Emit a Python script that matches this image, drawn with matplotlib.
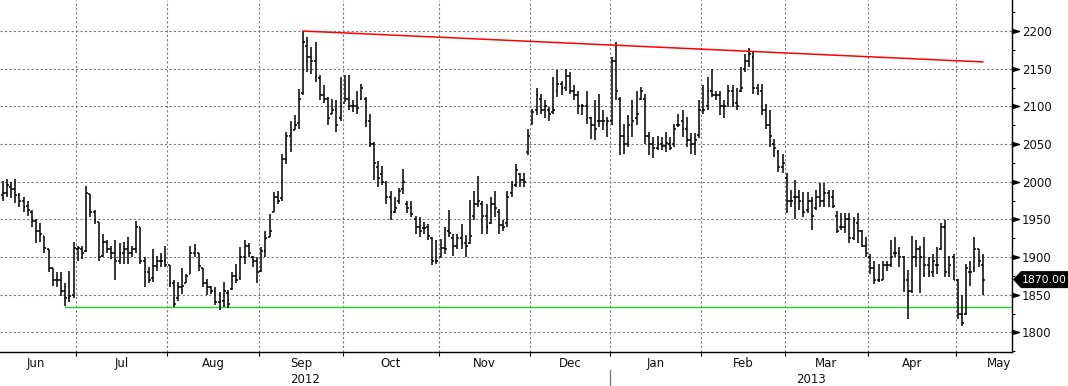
import numpy as np
import pandas as pd
import matplotlib
matplotlib.use('Agg')
import matplotlib.pyplot as plt
import matplotlib.transforms as mtransforms
from matplotlib.patches import Polygon
from matplotlib.ticker import MultipleLocator

plt.rcParams['font.family'] = ['DejaVu Sans']

# LME trading calendar (weekdays less UK bank holidays)
uk_holidays = ['2012-06-04', '2012-06-05', '2012-08-27', '2012-12-25', '2012-12-26',
               '2013-01-01', '2013-03-29', '2013-04-01', '2013-05-06', '2013-05-27']

# daily OHLC, Jun 2012 .. May 2013 (one row per month)
opens = [
    1990, 1982, 1985, 1993, 1990, 1982, 1975, 1968, 1960, 1948, 1935, 1928, 1910, 1885, 1870, 1870, 1855, 1845, 1850,
    1910, 1910, 1908, 1984, 1960, 1946, 1902, 1920, 1910, 1905, 1895, 1905, 1910, 1905, 1910, 1940, 1895, 1880, 1872, 1888, 1895, 1895,
    1890, 1865, 1845, 1860, 1865, 1878, 1905, 1905, 1885, 1865, 1860, 1855, 1840, 1842, 1852, 1858, 1875, 1872, 1900, 1915, 1900, 1895,
    1882, 1908, 1927, 1960, 1980, 1978, 2030, 2060, 2068, 2078, 2118, 2180, 2165, 2160, 2138, 2115, 2110, 2090, 2095, 2085,
    2105, 2110, 2100, 2100, 2110, 2110, 2080, 2050, 2020, 2010, 2000, 1980, 1960, 1975, 1990, 1970, 1965, 1950, 1940, 1938, 1940, 1925, 1895,
    1900, 1912, 1935, 1925, 1915, 1925, 1918, 1918, 1955, 1970, 1970, 1955, 1945, 1970, 1960, 1942, 1945, 1985, 1995, 2010, 2002, 2040,
    2078, 2095, 2110, 2095, 2095, 2092, 2120, 2130, 2125, 2140, 2120, 2115, 2100, 2100, 2085, 2075, 2080, 2080, 2075,
    2080, 2160, 2110, 2060, 2050, 2075, 2085, 2110, 2110, 2060, 2050, 2045, 2050, 2048, 2050, 2050, 2075, 2080, 2070, 2055, 2050, 2062,
    2095, 2100, 2120, 2115, 2115, 2100, 2105, 2120, 2105, 2120, 2150, 2160, 2165, 2125, 2120, 2095, 2075, 2050, 2040, 2020,
    2005, 1975, 1980, 1980, 1975, 1962, 1975, 1965, 1980, 1975, 1985, 1980, 1955, 1940, 1940, 1950, 1925, 1945, 1935, 1915,
    1900, 1885, 1870, 1870, 1890, 1890, 1905, 1905, 1900, 1870, 1855, 1900, 1910, 1900, 1890, 1880, 1890, 1910, 1940, 1880, 1900,
    1870, 1825, 1825, 1880, 1885, 1910, 1890,
]
highs = [
    2000, 2001, 2003, 2000, 2004, 1985, 1980, 1975, 1962, 1950, 1945, 1928, 1910, 1885, 1880, 1880, 1865, 1882, 1920,
    1915, 1915, 1994, 1984, 1962, 1946, 1930, 1922, 1915, 1922, 1918, 1920, 1926, 1915, 1948, 1940, 1900, 1887, 1911, 1902, 1905, 1915,
    1890, 1869, 1867, 1885, 1878, 1915, 1917, 1905, 1885, 1871, 1862, 1860, 1853, 1867, 1856, 1880, 1891, 1913, 1922, 1918, 1902, 1900,
    1913, 1935, 1957, 1986, 1988, 2037, 2066, 2081, 2088, 2123, 2200, 2192, 2179, 2185, 2141, 2128, 2112, 2110, 2108, 2139,
    2141, 2141, 2108, 2121, 2130, 2112, 2090, 2053, 2028, 2021, 2001, 1988, 1980, 1992, 2017, 1975, 1975, 1955, 1953, 1946, 1944, 1926, 1922,
    1924, 1940, 1962, 1931, 1931, 1944, 1929, 1976, 1988, 2008, 1975, 1971, 1980, 1988, 1964, 1949, 1988, 2001, 2024, 2011, 2011, 2070,
    2097, 2125, 2117, 2108, 2099, 2139, 2148, 2134, 2150, 2146, 2128, 2121, 2103, 2121, 2086, 2108, 2117, 2095, 2086,
    2165, 2185, 2112, 2077, 2088, 2108, 2121, 2126, 2117, 2066, 2059, 2061, 2059, 2066, 2059, 2077, 2090, 2095, 2086, 2064, 2064, 2108,
    2128, 2139, 2150, 2121, 2121, 2108, 2128, 2128, 2124, 2152, 2170, 2177, 2174, 2130, 2130, 2103, 2095, 2057, 2042, 2037,
    2011, 1989, 2002, 1989, 1986, 1986, 1980, 1989, 1998, 1998, 1989, 1989, 1961, 1958, 1958, 1958, 1953, 1958, 1936, 1927,
    1904, 1895, 1891, 1895, 1895, 1922, 1926, 1913, 1902, 1883, 1928, 1922, 1915, 1926, 1900, 1904, 1913, 1945, 1949, 1902, 1904,
    1871, 1849, 1891, 1895, 1926, 1911, 1904,
]
lows = [
    1978, 1975, 1980, 1978, 1972, 1966, 1960, 1955, 1940, 1918, 1920, 1905, 1880, 1862, 1860, 1848, 1835, 1840, 1845,
    1895, 1898, 1907, 1953, 1944, 1895, 1900, 1905, 1898, 1869, 1891, 1891, 1891, 1900, 1905, 1891, 1860, 1865, 1867, 1882, 1887, 1887,
    1860, 1834, 1842, 1851, 1865, 1878, 1900, 1882, 1860, 1849, 1851, 1836, 1829, 1834, 1832, 1856, 1865, 1870, 1891, 1900, 1887, 1865,
    1880, 1900, 1927, 1960, 1971, 1975, 2024, 2039, 2068, 2070, 2115, 2146, 2143, 2132, 2108, 2104, 2075, 2090, 2066, 2081,
    2106, 2095, 2092, 2090, 2108, 2073, 2046, 2002, 1993, 1995, 1970, 1949, 1958, 1971, 1984, 1958, 1953, 1931, 1926, 1931, 1922, 1889, 1891,
    1900, 1904, 1927, 1902, 1911, 1911, 1900, 1917, 1949, 1966, 1931, 1931, 1944, 1953, 1931, 1935, 1940, 1980, 1993, 1993, 1993, 2035,
    2075, 2088, 2090, 2084, 2081, 2090, 2112, 2115, 2121, 2117, 2108, 2090, 2088, 2077, 2057, 2055, 2073, 2068, 2059,
    2075, 2108, 2035, 2037, 2046, 2059, 2075, 2108, 2050, 2035, 2031, 2042, 2042, 2039, 2042, 2046, 2073, 2059, 2046, 2037, 2035, 2058,
    2090, 2095, 2112, 2108, 2088, 2084, 2099, 2099, 2095, 2119, 2145, 2152, 2117, 2115, 2088, 2070, 2046, 2033, 2013, 2011,
    1958, 1967, 1951, 1962, 1953, 1958, 1936, 1962, 1967, 1967, 1967, 1965, 1932, 1936, 1932, 1919, 1922, 1919, 1913, 1900,
    1878, 1864, 1867, 1869, 1882, 1887, 1900, 1887, 1854, 1818, 1852, 1887, 1852, 1873, 1873, 1873, 1878, 1909, 1873, 1873, 1869,
    1818, 1809, 1823, 1862, 1880, 1887, 1849,
]
closes = [
    1985, 1985, 1995, 1990, 1982, 1975, 1966, 1962, 1948, 1935, 1930, 1912, 1885, 1870, 1870, 1855, 1845, 1848, 1912,
    1912, 1905, 1985, 1960, 1948, 1900, 1920, 1910, 1905, 1895, 1905, 1910, 1905, 1910, 1940, 1895, 1880, 1870, 1888, 1895, 1895, 1890,
    1865, 1838, 1860, 1862, 1875, 1905, 1910, 1888, 1865, 1860, 1855, 1840, 1840, 1855, 1837, 1875, 1870, 1900, 1915, 1905, 1895, 1880,
    1908, 1925, 1935, 1980, 1975, 2030, 2060, 2065, 2075, 2110, 2185, 2165, 2160, 2140, 2115, 2110, 2085, 2095, 2075, 2100,
    2110, 2100, 2100, 2098, 2125, 2080, 2050, 2025, 2005, 2000, 1980, 1960, 1965, 1988, 2000, 1965, 1957, 1940, 1935, 1938, 1928, 1895, 1895,
    1912, 1910, 1932, 1915, 1925, 1918, 1915, 1928, 1970, 1975, 1955, 1940, 1970, 1965, 1942, 1940, 1980, 1995, 2015, 2002, 2000, 2060,
    2092, 2115, 2095, 2100, 2090, 2095, 2130, 2125, 2140, 2120, 2115, 2100, 2100, 2085, 2075, 2070, 2080, 2080, 2080,
    2160, 2120, 2060, 2050, 2075, 2080, 2090, 2120, 2060, 2050, 2045, 2050, 2048, 2052, 2045, 2070, 2075, 2070, 2055, 2050, 2055, 2095,
    2095, 2120, 2115, 2115, 2100, 2100, 2120, 2105, 2100, 2125, 2160, 2170, 2125, 2120, 2095, 2075, 2060, 2045, 2020, 2025,
    1975, 1975, 1980, 1975, 1960, 1975, 1955, 1980, 1975, 1985, 1980, 1968, 1935, 1940, 1950, 1925, 1948, 1935, 1915, 1905,
    1885, 1870, 1870, 1890, 1890, 1900, 1905, 1900, 1870, 1855, 1900, 1910, 1900, 1890, 1880, 1895, 1890, 1940, 1880, 1890, 1870,
    1825, 1812, 1885, 1880, 1910, 1895, 1870,
]

trend_line = [2200, 2159]   # resistance from the Sep high to the last bar
support_level = 1833.5       # June low support
yticks = [1800, 1850, 1900, 1950, 2000, 2050, 2100, 2150, 2200]

cal = pd.bdate_range('2012-06-01', '2013-05-31')
cal = cal[~cal.isin(pd.to_datetime(uk_holidays))]
n = len(closes)
x = np.arange(n)

fig = plt.figure(figsize=(10.68, 3.86), dpi=100)
ax = fig.add_axes([0, 34 / 386, 1012 / 1068, 352 / 386])

ink = '#111111'
fs = 8.5
bar_lw = 1.1
ax.vlines(x, lows, highs, color='black', lw=bar_lw, zorder=3)
ax.hlines(opens, x - 0.45, x, color='black', lw=bar_lw, zorder=3)
ax.hlines(closes, x, x + 0.45, color='black', lw=bar_lw, zorder=3)

# trend and support lines
peak = int(np.argmax(highs))
ax.plot([peak, n - 1], trend_line, color='#ff0000', lw=1.1, zorder=4)
jun_low = int(np.argmin(lows[:19]))
ax.plot([jun_low, 1e4], [support_level, support_level], color='#1fd01f', lw=1.0, zorder=2)

ax.set_xlim(0.34, 243.0)
ax.set_ylim(1773.9, 2241.2)

# month boundaries
months = pd.Series(np.arange(len(cal)), index=cal)
first_idx = months.groupby([cal.year, cal.month]).min().values
last_idx = months.groupby([cal.year, cal.month]).max().values
month_names = [d.strftime('%b') for d in cal[first_idx]]
bounds = first_idx[1:] - 0.5

ax.set_xticks(bounds)
ax.set_xticklabels([])
ax.tick_params(axis='x', length=3, width=0.8, direction='out', color='black')

xtr = ax.get_xaxis_transform()
for f, l, name in zip(first_idx, last_idx, month_names):
    c = (f + l) / 2
    if ax.get_xlim()[0] < c < ax.get_xlim()[1]:
        ax.text(c, -0.043, name, transform=xtr, ha='center', va='baseline', fontsize=fs, color=ink)

year_split = bounds[list(cal[first_idx[1:]].month).index(1)]
x0, x1 = ax.get_xlim()
ax.text((x0 + year_split) / 2, -0.088, '2012', transform=xtr, ha='center', va='baseline', fontsize=fs, color=ink)
ax.text((year_split + x1) / 2, -0.088, '2013', transform=xtr, ha='center', va='baseline', fontsize=fs, color=ink)
ax.plot([year_split, year_split], [-0.051, -0.1], transform=xtr, color='#808080', lw=1, clip_on=False)

# y axis on the right
ax.yaxis.tick_right()
ax.set_yticks(yticks)
ax.yaxis.set_minor_locator(MultipleLocator(25))
ax.tick_params(axis='y', which='major', length=0, pad=7.2, labelsize=fs, labelcolor=ink)
ax.tick_params(axis='y', which='minor', length=2.5, width=0.8, direction='out', color='black')
tri = [(0, -2), (7, 0), (0, 2), (0, -2)]
ax.plot([1.0] * len(yticks), yticks, transform=ax.get_yaxis_transform(), marker=tri, ms=10,
        color='black', ls='none', clip_on=False)

ax.grid(True, color='#7a7a7a', linestyle=(0, (2, 2)), linewidth=0.8)
ax.set_axisbelow(True)

for s in ['top', 'left']:
    ax.spines[s].set_visible(False)
for s in ['bottom', 'right']:
    ax.spines[s].set_color('black')
    ax.spines[s].set_linewidth(1)

# last price box
xs = ax.transAxes.transform((1, 0))[0]
yc = ax.transData.transform((0, closes[-1]))[1]
box = [(xs + 1, yc), (xs + 9, yc + 8.5), (1068, yc + 8.5), (1068, yc - 8.5), (xs + 9, yc - 8.5)]
fig.add_artist(Polygon(box, closed=True, facecolor='black', edgecolor='none',
                       transform=mtransforms.IdentityTransform()))
fig.text(xs + 9.5, yc, f'{closes[-1]:.2f}', color='white', fontsize=7.8, ha='left', va='center',
         transform=mtransforms.IdentityTransform())

fig.savefig('out.png', dpi=100)
